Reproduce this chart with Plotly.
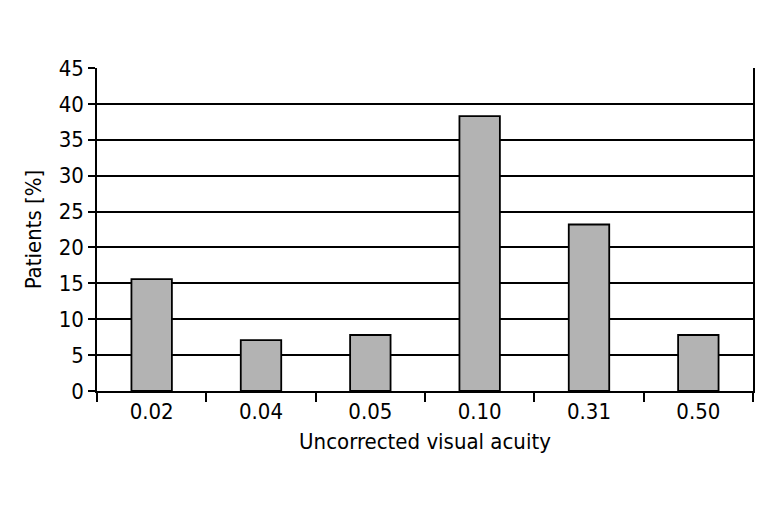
import plotly.graph_objects as go

categories = ["0.02", "0.04", "0.05", "0.10", "0.31", "0.50"]
patients_pct = [15.6, 7.1, 7.8, 38.3, 23.2, 7.8]
y_ticks = [0, 5, 10, 15, 20, 25, 30, 35, 40, 45]

FONT = "DejaVu Sans Condensed, sans-serif"
FS = 22

fig = go.Figure(go.Bar(
    x=categories, y=patients_pct, width=0.37,
    marker=dict(color="#b3b3b3", line=dict(color="black", width=1.8)),
))

# page body has an 8px margin, so the figure is 763x506 placed at (8, 8)
fig.update_layout(
    width=763, height=506,
    margin=dict(l=89, r=18, t=60, b=123),
    plot_bgcolor="white", paper_bgcolor="white",
    font=dict(family=FONT, size=FS, color="black"),
    showlegend=False,
)
fig.update_xaxes(
    type="category", tickson="boundaries", automargin=False,
    ticks="outside", ticklen=9, tickwidth=1.5, tickcolor="black",
    showline=True, linecolor="black", linewidth=1.5,
    showgrid=False,
    title=dict(text="Uncorrected visual acuity", font=dict(size=FS), standoff=10),
    tickfont=dict(size=FS),
)
fig.update_yaxes(
    range=[0, 45], tickvals=y_ticks, automargin=False,
    ticks="outside", ticklen=7, tickwidth=1.5, tickcolor="black",
    showline=True, linecolor="black", linewidth=1.5, mirror=True,
    showgrid=True, gridcolor="black", gridwidth=2,
    zeroline=False,
    title=dict(text="Patients [%]", font=dict(size=FS), standoff=11),
    tickfont=dict(size=FS),
)

fig.write_html("out.html")
